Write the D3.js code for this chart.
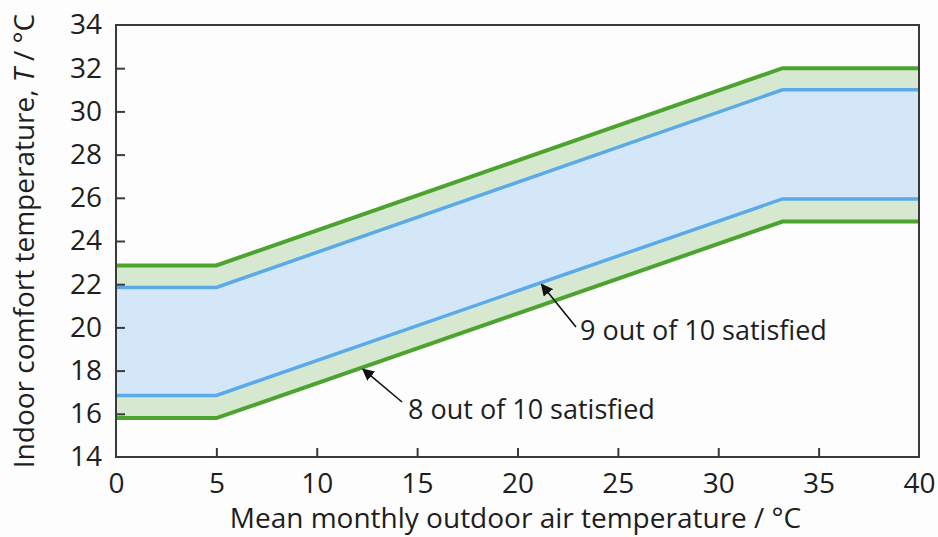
<!DOCTYPE html>
<html>
<head>
<meta charset="utf-8">
<script src="https://cdn.jsdelivr.net/npm/d3@7"></script>
<style>
  html, body { margin: 0; padding: 0; background: #fdfdfd; }
  svg { display: block; }
  text { font-family: "Open Sans", "Noto Sans", sans-serif; fill: #1e1e1e; }
</style>
</head>
<body>
<svg id="chart" width="938" height="537"></svg>
<script>
// Mean monthly outdoor temperature breakpoints (°C)
const outdoorTemp = [0, 5, 33.2, 40];
// Comfort band limits (°C) at each breakpoint
const upper80 = [22.87, 22.87, 32.0, 32.0];
const upper90 = [21.85, 21.85, 31.0, 31.0];
const lower90 = [16.85, 16.85, 25.95, 25.95];
const lower80 = [15.8, 15.8, 24.9, 24.9];

const xTicks = [0, 5, 10, 15, 20, 25, 30, 35, 40];
const yTicks = [14, 16, 18, 20, 22, 24, 26, 28, 30, 32, 34];

const annotations = [
  { label: "9 out of 10 satisfied", at: 21.2, band: lower90, tx: 580, ty: 340, ax: 576, ay: 327 },
  { label: "8 out of 10 satisfied", at: 12.3, band: lower80, tx: 408, ty: 419, ax: 402, ay: 402 }
];

const FONT = 28;
const svg = d3.select("#chart");
const margin = { left: 116, right: 19, top: 25, bottom: 80 };
const W = 938, H = 537;

const x = d3.scaleLinear().domain([0, 40]).range([margin.left, W - margin.right]);
const y = d3.scaleLinear().domain([14, 34]).range([H - margin.bottom, margin.top]);

const pts = (arr) => outdoorTemp.map((t, i) => [t, arr[i]]);
const interp = (arr, t) => {
  for (let i = 0; i < outdoorTemp.length - 1; i++) {
    if (t >= outdoorTemp[i] && t <= outdoorTemp[i + 1]) {
      const f = (t - outdoorTemp[i]) / (outdoorTemp[i + 1] - outdoorTemp[i]);
      return arr[i] + f * (arr[i + 1] - arr[i]);
    }
  }
  return arr[arr.length - 1];
};

const area = (hi, lo) => d3.area()
  .x((d, i) => x(outdoorTemp[i]))
  .y0((d, i) => y(lo[i]))
  .y1((d, i) => y(hi[i]))(outdoorTemp);

// Outer (80 %) band and inner (90 %) band
svg.append("path").attr("d", area(upper80, lower80)).attr("fill", "#d6e9d0");
svg.append("path").attr("d", area(upper90, lower90)).attr("fill", "#d3e7f8");

const line = d3.line().x(d => x(d[0])).y(d => y(d[1]));
[upper90, lower90].forEach(arr => {
  svg.append("path").attr("d", line(pts(arr)))
    .attr("fill", "none").attr("stroke", "#5aaae9").attr("stroke-width", 3.5);
});
[upper80, lower80].forEach(arr => {
  svg.append("path").attr("d", line(pts(arr)))
    .attr("fill", "none").attr("stroke", "#4ca42f").attr("stroke-width", 4);
});

// Frame
svg.append("rect")
  .attr("x", x(0)).attr("y", y(34))
  .attr("width", x(40) - x(0)).attr("height", y(14) - y(34))
  .attr("fill", "none").attr("stroke", "#3a3a3a").attr("stroke-width", 2);

// Axes: inward ticks, no domain path
const xAxis = d3.axisBottom(x).tickValues(xTicks).tickSizeInner(-9).tickSizeOuter(0).tickPadding(16)
  .tickFormat(d3.format("d"));
const gx = svg.append("g").attr("transform", `translate(0,${y(14)})`).call(xAxis);
gx.select(".domain").remove();
gx.selectAll(".tick line").attr("stroke", "#3a3a3a").attr("stroke-width", 2)
  .filter(d => d === 0 || d === 40).remove();
gx.selectAll(".tick text").attr("font-size", FONT).attr("fill", "#1e1e1e")
  .attr("font-family", "Open Sans, Noto Sans, sans-serif");

const yAxis = d3.axisLeft(y).tickValues(yTicks).tickSizeInner(-9).tickSizeOuter(0).tickPadding(14)
  .tickFormat(d3.format("d"));
const gy = svg.append("g").attr("transform", `translate(${x(0)},0)`).call(yAxis);
gy.select(".domain").remove();
gy.selectAll(".tick line").attr("stroke", "#3a3a3a").attr("stroke-width", 2)
  .filter(d => d === 14 || d === 34).remove();
gy.selectAll(".tick text").attr("font-size", FONT).attr("fill", "#1e1e1e")
  .attr("font-family", "Open Sans, Noto Sans, sans-serif");

// Axis titles
svg.append("text")
  .attr("x", (x(0) + x(40)) / 2 - 2).attr("y", 528)
  .attr("text-anchor", "middle").attr("font-size", FONT)
  .text("Mean monthly outdoor air temperature / °C");

const yt = svg.append("text")
  .attr("transform", `translate(34,${(y(14) + y(34)) / 2}) rotate(-90)`)
  .attr("text-anchor", "middle").attr("font-size", FONT);
yt.append("tspan").text("Indoor comfort temperature, ");
yt.append("tspan").attr("font-style", "italic").text("T");
yt.append("tspan").text(" / °C");

// Annotation arrows
const defs = svg.append("defs");
defs.append("marker").attr("id", "arrowHead")
  .attr("viewBox", "0 0 10 10").attr("refX", 9).attr("refY", 5)
  .attr("markerWidth", 7.5).attr("markerHeight", 7.5).attr("orient", "auto")
  .append("path").attr("d", "M0,0 L10,5 L0,10 z").attr("fill", "#111");

annotations.forEach(a => {
  const px = x(a.at), py = y(interp(a.band, a.at)) + 2;
  svg.append("line")
    .attr("x1", a.ax).attr("y1", a.ay).attr("x2", px).attr("y2", py)
    .attr("stroke", "#111").attr("stroke-width", 1.6)
    .attr("marker-end", "url(#arrowHead)");
  svg.append("text").attr("x", a.tx).attr("y", a.ty)
    .attr("font-size", 27).text(a.label);
});
</script>
</body>
</html>
